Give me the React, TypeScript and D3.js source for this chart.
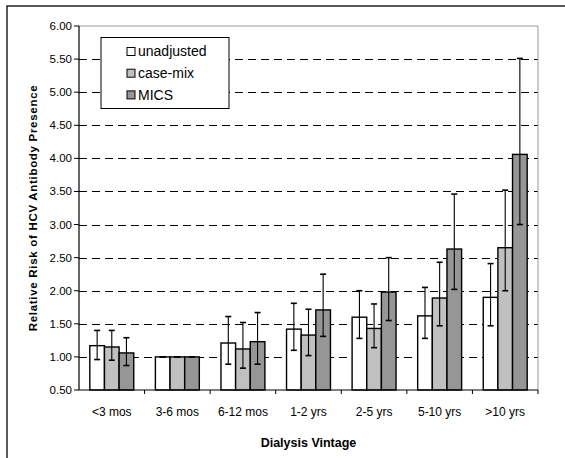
import React from 'react';
import * as d3 from 'd3';

const categories = ['<3 mos', '3-6 mos', '6-12 mos', '1-2 yrs', '2-5 yrs', '5-10 yrs', '>10 yrs'];
const seriesNames = ['unadjusted', 'case-mix', 'MICS'];
const seriesColors = ['#ffffff', '#c0c0c0', '#969696'];

const unadjusted = [1.17, 1.0, 1.21, 1.42, 1.6, 1.62, 1.9];
const unadjustedLow = [0.96, 1.0, 0.89, 1.1, 1.28, 1.28, 1.47];
const unadjustedHigh = [1.4, 1.0, 1.61, 1.81, 2.0, 2.05, 2.41];

const caseMix = [1.15, 1.0, 1.12, 1.33, 1.43, 1.89, 2.65];
const caseMixLow = [0.95, 1.0, 0.83, 1.02, 1.14, 1.47, 2.0];
const caseMixHigh = [1.4, 1.0, 1.52, 1.72, 1.8, 2.43, 3.52];

const mics = [1.06, 1.0, 1.23, 1.71, 1.98, 2.63, 4.06];
const micsLow = [0.87, 1.0, 0.89, 1.31, 1.55, 2.02, 3.0];
const micsHigh = [1.29, 1.0, 1.67, 2.25, 2.5, 3.46, 5.51];

const yTicks = [0.5, 1, 1.5, 2, 2.5, 3, 3.5, 4, 4.5, 5, 5.5, 6];

const values = [unadjusted, caseMix, mics];
const lows = [unadjustedLow, caseMixLow, micsLow];
const highs = [unadjustedHigh, caseMixHigh, micsHigh];

const W = 565;
const H = 458;
const left = 79;
const right = 538;
const top = 26;
const bottom = 390;
const font = 'Arial, "Liberation Sans", sans-serif';

export default function App() {
  const x = d3.scaleBand<string>().domain(categories).range([left, right]).paddingInner(0.33).paddingOuter(0.165);
  const xs = d3.scaleBand<string>().domain(seriesNames).range([0, x.bandwidth()]);
  const y = d3.scaleLinear().domain([0.5, 6]).range([bottom, top]);
  const step = (right - left) / categories.length;

  return (
    <svg width={W} height={H} style={{ position: 'absolute', left: 0, top: 0 }} fontFamily={font}>
      <rect x={0} y={0} width={W} height={H} fill="#fff" />
      <rect x={7} y={6} width={W + 10} height={H + 10} fill="none" stroke="#000" strokeWidth={1.3} />

      {/* grid */}
      {yTicks.slice(1, -1).map(t => (
        <line key={t} x1={left} x2={right} y1={Math.round(y(t)) + 0.5} y2={Math.round(y(t)) + 0.5}
          stroke="#000" strokeWidth={1} strokeDasharray="8,5" />
      ))}
      <line x1={left} x2={right} y1={y(6)} y2={y(6)} stroke="#999" strokeWidth={1} />
      <line x1={right} x2={right} y1={top} y2={bottom} stroke="#999" strokeWidth={1} />

      {/* bars */}
      {seriesNames.map((s, si) => (
        <g key={s}>
          {categories.map((c, ci) => {
            const bx = (x(c) ?? 0) + (xs(s) ?? 0);
            const v = values[si][ci];
            return (
              <rect key={c} x={bx} y={y(v)} width={xs.bandwidth()} height={y(0.5) - y(v)}
                fill={seriesColors[si]} stroke="#000" strokeWidth={1.4} />
            );
          })}
        </g>
      ))}

      {/* error bars */}
      {seriesNames.map((s, si) => (
        <g key={s} stroke="#000" strokeWidth={1.1}>
          {categories.map((c, ci) => {
            const cx = (x(c) ?? 0) + (xs(s) ?? 0) + xs.bandwidth() / 2;
            const lo = y(lows[si][ci]);
            const hi = y(highs[si][ci]);
            return (
              <g key={c}>
                <line x1={cx} x2={cx} y1={hi} y2={lo} />
                <line x1={cx - 3} x2={cx + 3} y1={hi} y2={hi} strokeWidth={1.6} />
                <line x1={cx - 3} x2={cx + 3} y1={lo} y2={lo} strokeWidth={1.6} />
              </g>
            );
          })}
        </g>
      ))}

      {/* axes */}
      <line x1={left} x2={left} y1={top} y2={bottom} stroke="#000" strokeWidth={1.2} />
      <line x1={left} x2={right} y1={bottom} y2={bottom} stroke="#000" strokeWidth={1.2} />
      {yTicks.map(t => (
        <g key={t}>
          <line x1={left - 5} x2={left} y1={y(t)} y2={y(t)} stroke="#000" />
          <text x={left - 7} y={y(t)} dy="0.35em" textAnchor="end" fontSize={11.5}>{t.toFixed(2)}</text>
        </g>
      ))}
      {d3.range(1, categories.length + 1).map(i => (
        <line key={i} x1={left + i * step} x2={left + i * step} y1={bottom} y2={bottom + 4} stroke="#000" />
      ))}
      {categories.map(c => (
        <text key={c} x={(x(c) ?? 0) + x.bandwidth() / 2} y={412} dy="0.35em" textAnchor="middle" fontSize={12}>{c}</text>
      ))}

      <text x={(left + right) / 2} y={443} dy="0.35em" textAnchor="middle" fontSize={12.5} fontWeight="bold">Dialysis Vintage</text>
      <text transform={`translate(33,${(top + bottom) / 2}) rotate(-90)`} dy="0.35em" textAnchor="middle"
        fontSize={11.5} fontWeight="bold" letterSpacing={0.7}>Relative Risk of HCV Antibody Presence</text>

      {/* legend */}
      <rect x={101} y={37.5} width={128} height={71} fill="#fff" stroke="#000" strokeWidth={1} />
      {seriesNames.map((s, i) => (
        <g key={s} transform={`translate(127,${51.5 + i * 21.7})`}>
          <rect x={0} y={-4} width={8} height={8} fill={seriesColors[i]} stroke="#000" strokeWidth={1} />
          <text x={11} y={0} dy="0.35em" fontSize={14}>{s}</text>
        </g>
      ))}
    </svg>
  );
}
